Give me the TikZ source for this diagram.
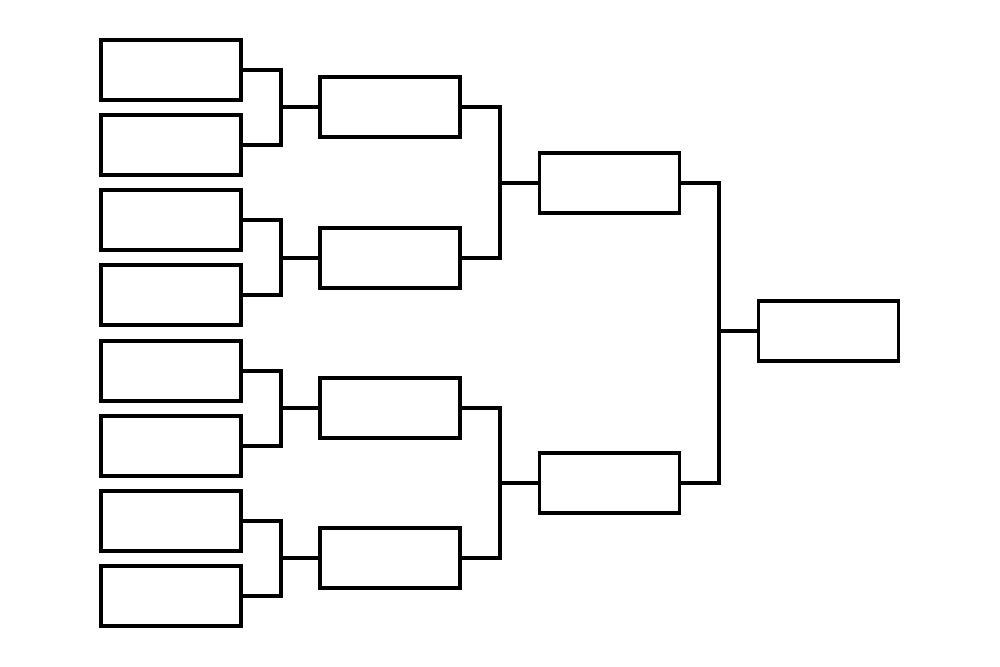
\documentclass[tikz,border=0pt]{standalone}
\begin{document}
\begin{tikzpicture}[x=0.01cm,y=-0.01cm,
  slot/.style={draw,rectangle,line width=1.1pt,minimum width=1.4cm,minimum height=0.6cm,inner sep=0pt},
  link/.style={line width=0.9pt,line cap=rect}]

  \useasboundingbox (0,0) rectangle (1000,667);

  % first round
  \node[slot] (r1a) at (171,70) {};
  \node[slot] (r1b) at (171,145) {};
  \node[slot] (r1c) at (171,220) {};
  \node[slot] (r1d) at (171,295) {};
  \node[slot] (r1e) at (171,371) {};
  \node[slot] (r1f) at (171,446) {};
  \node[slot] (r1g) at (171,521) {};
  \node[slot] (r1h) at (171,596) {};

  % second round
  \node[slot] (r2a) at (390,107) {};
  \node[slot] (r2b) at (390,258) {};
  \node[slot] (r2c) at (390,408) {};
  \node[slot] (r2d) at (390,558) {};

  % semi finals
  \node[slot] (r3a) at (609.5,183) {};
  \node[slot] (r3b) at (609.5,483) {};

  % final
  \node[slot] (fin) at (828.5,331) {};

  \coordinate (ja) at (281,107);
  \coordinate (jb) at (281,258);
  \coordinate (jc) at (281,408);
  \coordinate (jd) at (281,558);
  \coordinate (je) at (500,183);
  \coordinate (jf) at (500,483);
  \coordinate (jg) at (719,331);

  \draw[link] (r1a.east) -| (ja) |- (r1b.east);
  \draw[link] (r1c.east) -| (jb) |- (r1d.east);
  \draw[link] (r1e.east) -| (jc) |- (r1f.east);
  \draw[link] (r1g.east) -| (jd) |- (r1h.east);
  \draw[link] (ja) -- (r2a.west);
  \draw[link] (jb) -- (r2b.west);
  \draw[link] (jc) -- (r2c.west);
  \draw[link] (jd) -- (r2d.west);

  \draw[link] (r2a.east) -| (je) |- (r2b.east);
  \draw[link] (r2c.east) -| (jf) |- (r2d.east);
  \draw[link] (je) -- (r3a.west);
  \draw[link] (jf) -- (r3b.west);

  \draw[link] (r3a.east) -| (jg) |- (r3b.east);
  \draw[link] (jg) -- (fin.west);

\end{tikzpicture}
\end{document}
